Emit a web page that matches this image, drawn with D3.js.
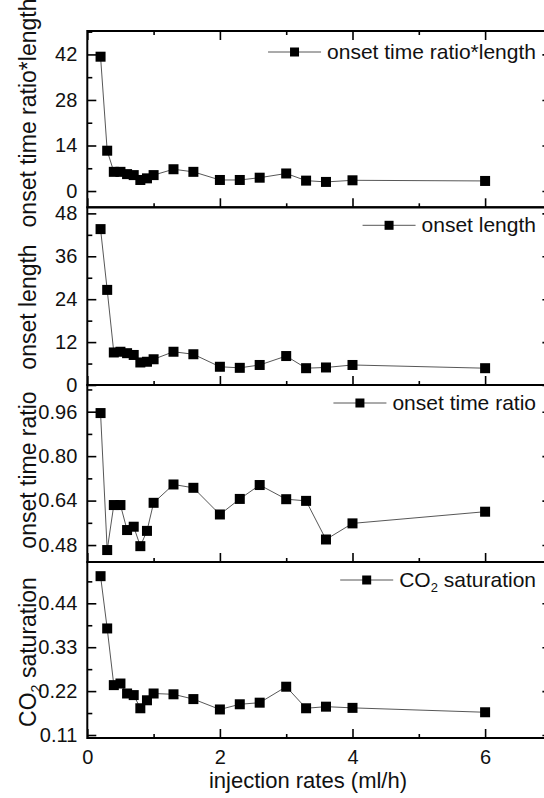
<!DOCTYPE html>
<html>
<head>
<meta charset="utf-8">
<script src="https://cdn.jsdelivr.net/npm/d3@7"></script>
<style>
  body { margin: 0; background: #fff; }
  svg { display: block; font-family: "Liberation Sans", Arial, sans-serif; }
</style>
</head>
<body>
<div id="chart"></div>
<script>
// injection rates (ml/h), shared x values
var rates = [0.2, 0.3, 0.4, 0.5, 0.6, 0.7, 0.8, 0.9, 1.0, 1.3, 1.6, 2.0, 2.3, 2.6, 3.0, 3.3, 3.6, 4.0, 6.0];
// series
var ratioLength = [41.3, 12.4, 5.9, 5.9, 5.2, 4.9, 3.4, 3.9, 4.9, 6.7, 5.9, 3.4, 3.4, 4.1, 5.4, 3.2, 2.8, 3.3, 3.1];
var onsetLength = [43.6, 26.6, 9.1, 9.3, 8.9, 8.4, 6.3, 6.5, 7.2, 9.3, 8.6, 5.1, 4.8, 5.6, 8.1, 4.7, 4.9, 5.6, 4.7];
var onsetRatio = [0.955, 0.462, 0.624, 0.624, 0.534, 0.546, 0.476, 0.531, 0.632, 0.698, 0.686, 0.590, 0.646, 0.696, 0.645, 0.639, 0.500, 0.558, 0.600];
var co2Sat = [0.508, 0.377, 0.235, 0.239, 0.214, 0.210, 0.177, 0.197, 0.214, 0.212, 0.200, 0.174, 0.187, 0.191, 0.231, 0.177, 0.181, 0.178, 0.167];

var xTicks = [0, 2, 4, 6];
var xMinor = [1, 3, 5];

var W = 544, H = 798;
var left = 87.3, right = 551.4;
var tops = [31, 207.3, 385, 562, 738];

var panels = [
  {values: ratioLength, domain: [-5, 49.2], major: [0, 14, 28, 42], minor: [7, 21, 35, 49], fmt: d3.format("d"),
   label: "onset time ratio*length", legend: "onset time ratio*length", labelY: 113, legY: 21, topTicks: true},
  {values: onsetLength, domain: [0, 49.7], major: [0, 12, 24, 36, 48], minor: [6, 18, 30, 42], fmt: d3.format("d"),
   label: "onset length", legend: "onset length", labelY: 307, legY: 18},
  {values: onsetRatio, domain: [0.419, 1.056], major: [0.48, 0.64, 0.80, 0.96], minor: [0.56, 0.72, 0.88, 1.04], fmt: d3.format(".2f"),
   label: "onset time ratio", legend: "onset time ratio", labelY: 470, legY: 18},
  {values: co2Sat, domain: [0.1025, 0.5435], major: [0.11, 0.22, 0.33, 0.44], minor: [0.165, 0.275, 0.385, 0.495], fmt: d3.format(".2f"),
   label: "CO2", legend: "CO2", labelY: 652, legY: 18, co2: true}
];

var svg = d3.select("#chart").append("svg")
    .attr("width", W)
    .attr("height", H);

var x = d3.scaleLinear().domain([0, 7]).range([left, right]);

function co2Text(sel) {
  sel.append("tspan").text("CO");
  sel.append("tspan").text("2").attr("font-size", "0.62em").attr("dy", 5);
  sel.append("tspan").text(" saturation").attr("dy", -5);
}

panels.forEach(function (p, i) {
  var top = tops[i], bot = tops[i + 1];
  var y = d3.scaleLinear().domain(p.domain).range([bot, top]);
  var g = svg.append("g");

  // left axis (ticks inward)
  var la = g.append("g").attr("transform", "translate(" + left + ",0)")
      .call(d3.axisLeft(y).tickValues(p.major).tickSize(-9).tickPadding(10).tickFormat(p.fmt));
  g.append("g").attr("transform", "translate(" + left + ",0)")
      .call(d3.axisLeft(y).tickValues(p.minor).tickSize(-5).tickFormat(""));
  // right axis
  g.append("g").attr("transform", "translate(" + right + ",0)")
      .call(d3.axisRight(y).tickValues(p.major).tickSize(-9).tickFormat(""));
  g.append("g").attr("transform", "translate(" + right + ",0)")
      .call(d3.axisRight(y).tickValues(p.minor).tickSize(-5).tickFormat(""));
  // bottom ticks pointing up
  g.append("g").attr("transform", "translate(0," + bot + ")")
      .call(d3.axisBottom(x).tickValues(xTicks).tickSize(-9).tickFormat(""));
  g.append("g").attr("transform", "translate(0," + bot + ")")
      .call(d3.axisBottom(x).tickValues(xMinor).tickSize(-4).tickFormat(""));
  if (p.topTicks) {
    g.append("g").attr("transform", "translate(0," + top + ")")
        .call(d3.axisTop(x).tickValues(xTicks).tickSize(-9).tickFormat(""));
    g.append("g").attr("transform", "translate(0," + top + ")")
        .call(d3.axisTop(x).tickValues(xMinor).tickSize(-4).tickFormat(""));
  }
  if (i === panels.length - 1) {
    g.append("g").attr("transform", "translate(0," + bot + ")")
        .call(d3.axisBottom(x).tickValues(xTicks).tickSize(0).tickPadding(12).tickFormat(d3.format("d")))
        .call(function (a) { a.select(".domain").remove(); })
        .selectAll("text").attr("font-size", 20).attr("fill", "#111");
  }

  g.selectAll(".domain").remove();
  g.selectAll(".tick line").attr("stroke", "#000").attr("stroke-width", 1.6);
  la.selectAll("text").attr("font-size", 20).attr("fill", "#111");

  // frame
  g.append("rect")
      .attr("x", left).attr("y", top)
      .attr("width", right - left).attr("height", bot - top)
      .attr("fill", "none").attr("stroke", "#000").attr("stroke-width", 2);

  // series
  var pts = rates.map(function (r, k) { return [r, p.values[k]]; });
  g.append("path")
      .datum(pts)
      .attr("fill", "none")
      .attr("stroke", "#444")
      .attr("stroke-width", 0.9)
      .attr("d", d3.line().x(function (d) { return x(d[0]); }).y(function (d) { return y(d[1]); }));
  g.selectAll("rect.pt").data(pts).enter().append("rect")
      .attr("class", "pt")
      .attr("x", function (d) { return x(d[0]) - 5; })
      .attr("y", function (d) { return y(d[1]) - 5; })
      .attr("width", 10).attr("height", 10)
      .attr("fill", "#000");

  // y label
  var yl = g.append("text")
      .attr("transform", "translate(36," + p.labelY + ") rotate(-90)")
      .attr("text-anchor", "middle")
      .attr("font-size", 23)
      .attr("fill", "#111");
  if (p.co2) yl.call(co2Text); else yl.text(p.label);

  // legend
  var ly = top + p.legY;
  var lt = g.append("text")
      .attr("x", 536).attr("y", ly + 7)
      .attr("text-anchor", "end")
      .attr("font-size", 21)
      .attr("fill", "#111");
  if (p.co2) lt.call(co2Text); else lt.text(p.legend);
  var tx = 536 - lt.node().getComputedTextLength();
  g.append("line")
      .attr("x1", tx - 59).attr("x2", tx - 6)
      .attr("y1", ly).attr("y2", ly)
      .attr("stroke", "#444").attr("stroke-width", 0.9);
  g.append("rect")
      .attr("x", tx - 32.5 - 4.5).attr("y", ly - 4.5)
      .attr("width", 9).attr("height", 9)
      .attr("fill", "#000");
});

svg.append("text")
    .attr("x", 308).attr("y", 788)
    .attr("text-anchor", "middle")
    .attr("font-size", 22)
    .attr("fill", "#111")
    .text("injection rates (ml/h)");
</script>
</body>
</html>
